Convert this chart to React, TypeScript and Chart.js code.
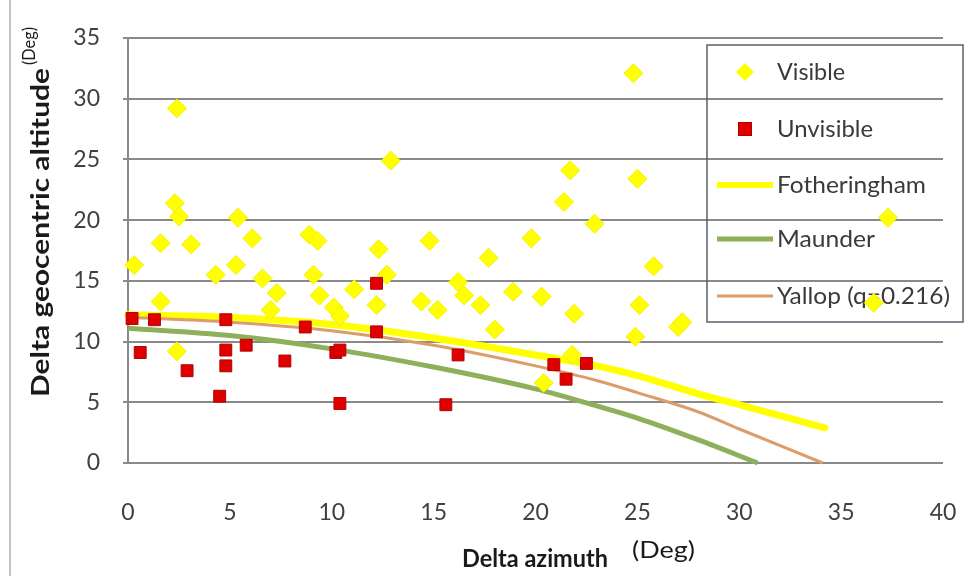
import React, { useEffect, useRef } from "react";
import { Chart, registerables } from "chart.js";

Chart.register(...registerables);

// ---- data ----
const xTickValues = [0, 5, 10, 15, 20, 25, 30, 35, 40];
const yTickValues = [0, 5, 10, 15, 20, 25, 30, 35];

const visibleAz = [
  0.3, 1.6, 1.6, 2.4, 2.3, 2.5, 2.4, 3.1, 4.3, 5.4, 5.3, 6.1, 6.6, 7.0, 7.3,
  8.9, 9.1, 9.3, 9.4, 10.1, 10.4, 11.1, 12.3, 12.2, 12.7, 12.9, 14.4, 14.8,
  15.2, 16.2, 16.5, 17.3, 17.7, 18.0, 18.9, 19.8, 20.3, 20.4, 21.4, 21.7,
  21.8, 21.9, 22.9, 24.8, 24.9, 25.0, 25.1, 25.8, 27.0, 27.2, 36.6, 37.3,
];
const visibleAlt = [
  16.3, 18.1, 13.3, 29.2, 21.4, 20.3, 9.2, 18.0, 15.5, 20.2, 16.3, 18.5, 15.2,
  12.6, 14.0, 18.8, 15.5, 18.3, 13.8, 12.8, 12.1, 14.3, 17.6, 13.0, 15.5, 24.9,
  13.3, 18.3, 12.6, 14.9, 13.8, 13.0, 16.9, 11.0, 14.1, 18.5, 13.7, 6.6, 21.5,
  24.1, 8.9, 12.3, 19.7, 32.1, 10.4, 23.4, 13.0, 16.2, 11.2, 11.6, 13.2, 20.2,
];

const unvisibleAz = [
  0.2, 0.6, 1.3, 2.9, 4.5, 4.8, 4.8, 4.8, 5.8, 7.7, 8.7, 10.2, 10.4, 10.4,
  12.2, 12.2, 15.6, 16.2, 20.9, 21.5, 22.5,
];
const unvisibleAlt = [
  11.9, 9.1, 11.8, 7.6, 5.5, 11.8, 9.3, 8.0, 9.7, 8.4, 11.2, 9.1, 9.3, 4.9,
  14.8, 10.8, 4.8, 8.9, 8.1, 6.9, 8.2,
];

const fotheringhamAz = [0, 5, 10, 15, 20, 23, 25, 28, 30, 34.2];
const fotheringhamAlt = [12.2, 12.0, 11.4, 10.3, 8.9, 8.0, 7.2, 5.7, 4.8, 2.9];
const maunderAz = [0, 5, 10, 15, 20, 23, 25, 28, 30.9];
const maunderAlt = [11.1, 10.5, 9.4, 7.9, 6.1, 4.7, 3.7, 1.9, 0];
const yallopAz = [0, 5, 10, 15, 20, 23, 25, 28, 30, 34.1];
const yallopAlt = [12.0, 11.6, 10.9, 9.7, 8.0, 6.8, 5.8, 4.2, 2.8, 0];

const legendLabels = ["Visible", "Unvisible", "Fotheringham", "Maunder", "Yallop (q=0.216)"];
const xTitle = "Delta azimuth";
const yTitle = "Delta geocentric altitude";
const unitLabel = "(Deg)";

// ---- styles ----
const FONT = "Lato, 'Open Sans', sans-serif";
const YELLOW = "#ffff00";
const RED = "#e00000";
const GREEN = "#8fb05a";
const TAN = "#dc9d6a";
const GRID = "#8a8a8a";
const TEXT = "#3a3a3a";

const pts = (xs: number[], ys: number[]) => xs.map((x, i) => ({ x, y: ys[i] }));

function fitText(ctx: CanvasRenderingContext2D, text: string, x: number, y: number, w: number) {
  const m = ctx.measureText(text).width;
  ctx.save();
  ctx.translate(x, y);
  ctx.scale(w / m, 1);
  ctx.fillText(text, 0, 0);
  ctx.restore();
}

const decorPlugin = {
  id: "decor",
  beforeDatasetsDraw(chart: any) {
    const ctx: CanvasRenderingContext2D = chart.ctx;
    ctx.save();
    // legend box
    ctx.strokeStyle = "#56606c";
    ctx.lineWidth = 1.5;
    ctx.strokeRect(707, 45, 256, 277);
    const rows = [72, 129, 185, 239, 296];
    const widths = [68, 96, 149, 98, 173];
    const mx = 745;
    ctx.fillStyle = YELLOW;
    ctx.beginPath();
    ctx.moveTo(mx, rows[0] - 9);
    ctx.lineTo(mx + 9, rows[0]);
    ctx.lineTo(mx, rows[0] + 9);
    ctx.lineTo(mx - 9, rows[0]);
    ctx.closePath();
    ctx.fill();
    ctx.fillStyle = RED;
    ctx.fillRect(mx - 6.5, rows[1] - 6.5, 13, 13);
    ctx.strokeStyle = "#b00000";
    ctx.lineWidth = 1;
    ctx.strokeRect(mx - 6.5, rows[1] - 6.5, 13, 13);
    const lines: [string, number][] = [[YELLOW, 6], [GREEN, 5], [TAN, 3]];
    lines.forEach(([c, w], i) => {
      ctx.strokeStyle = c;
      ctx.lineWidth = w;
      ctx.beginPath();
      ctx.moveTo(717, rows[i + 2]);
      ctx.lineTo(773, rows[i + 2]);
      ctx.stroke();
    });
    ctx.fillStyle = TEXT;
    ctx.font = `24px ${FONT}`;
    ctx.textBaseline = "middle";
    ctx.textAlign = "left";
    legendLabels.forEach((t, i) => fitText(ctx, t, 777, rows[i], widths[i]));
    ctx.restore();
  },
  afterDraw(chart: any) {
    const ctx: CanvasRenderingContext2D = chart.ctx;
    ctx.save();
    ctx.strokeStyle = "#c4c4c4";
    ctx.lineWidth = 2;
    ctx.beginPath();
    ctx.moveTo(10, 0);
    ctx.lineTo(10, 576);
    ctx.stroke();

    ctx.fillStyle = "#1a1a1a";
    ctx.textAlign = "left";
    ctx.textBaseline = "middle";
    ctx.font = `bold 24px ${FONT}`;
    fitText(ctx, xTitle, 462, 559, 146);
    ctx.font = `24px ${FONT}`;
    fitText(ctx, unitLabel, 632, 550, 63);
    ctx.translate(41, 397);
    ctx.rotate(-Math.PI / 2);
    ctx.font = `bold 24px ${FONT}`;
    fitText(ctx, yTitle, 0, 0, 329);
    ctx.font = `17px ${FONT}`;
    fitText(ctx, unitLabel, 332, -11, 38);
    ctx.restore();
  },
};

export default function App() {
  const ref = useRef<HTMLCanvasElement | null>(null);

  useEffect(() => {
    document.body.style.margin = "0";
    const canvas = ref.current;
    if (!canvas) return;
    const chart = new Chart(canvas, {
      type: "scatter",
      data: {
        datasets: [
          {
            label: legendLabels[0],
            data: pts(visibleAz, visibleAlt),
            pointStyle: "rectRot",
            pointRadius: 9.5,
            backgroundColor: YELLOW,
            borderColor: "#f4f000",
            borderWidth: 1,
            order: 1,
          },
          {
            label: legendLabels[1],
            data: pts(unvisibleAz, unvisibleAlt),
            pointStyle: "rect",
            pointRadius: 8.4,
            backgroundColor: RED,
            borderColor: "#b00000",
            borderWidth: 1,
            order: 0,
          },
          {
            label: legendLabels[2],
            data: pts(fotheringhamAz, fotheringhamAlt),
            showLine: true,
            borderColor: YELLOW,
            backgroundColor: YELLOW,
            borderWidth: 7,
            pointRadius: 0,
            cubicInterpolationMode: "monotone",
            borderCapStyle: "round",
            order: 3,
          },
          {
            label: legendLabels[3],
            data: pts(maunderAz, maunderAlt),
            showLine: true,
            borderColor: GREEN,
            backgroundColor: GREEN,
            borderWidth: 5,
            pointRadius: 0,
            cubicInterpolationMode: "monotone",
            order: 4,
          },
          {
            label: legendLabels[4],
            data: pts(yallopAz, yallopAlt),
            showLine: true,
            borderColor: TAN,
            backgroundColor: TAN,
            borderWidth: 3,
            pointRadius: 0,
            cubicInterpolationMode: "monotone",
            order: 2,
          },
        ] as any,
      },
      options: {
        responsive: false,
        animation: false,
        devicePixelRatio: 1,
        clip: false as any,
        layout: { padding: { left: 8, right: 25, top: 38, bottom: 0 } },
        plugins: {
          legend: { display: false },
          tooltip: { enabled: false },
          title: { display: false },
        },
        scales: {
          x: {
            type: "linear",
            min: xTickValues[0],
            max: xTickValues[xTickValues.length - 1],
            afterBuildTicks: (s: any) => {
              s.ticks = xTickValues.map((v) => ({ value: v }));
            },
            afterFit: (s: any) => {
              s.height = 113;
              s.paddingLeft = 0;
              s.paddingRight = 0;
            },
            ticks: {
              color: "#404040",
              font: { family: FONT, size: 23 },
              padding: 36,
              maxRotation: 0,
            },
            grid: { display: false, drawTicks: false },
            border: { display: false },
          },
          y: {
            type: "linear",
            min: yTickValues[0],
            max: yTickValues[yTickValues.length - 1],
            afterBuildTicks: (s: any) => {
              s.ticks = yTickValues.map((v) => ({ value: v }));
            },
            afterFit: (s: any) => {
              s.width = 120;
              s.paddingTop = 0;
              s.paddingBottom = 0;
            },
            ticks: {
              color: "#404040",
              font: { family: FONT, size: 23 },
              padding: 23,
            },
            grid: { color: GRID, lineWidth: 2, tickLength: 5, drawTicks: true },
            border: { display: true, color: GRID, width: 2 },
          },
        },
      },
      plugins: [decorPlugin],
    });
    return () => chart.destroy();
  }, []);

  return (
    <div style={{ width: 968, height: 576, background: "#fff" }}>
      <canvas ref={ref} width={968} height={576} style={{ display: "block" }} />
    </div>
  );
}
